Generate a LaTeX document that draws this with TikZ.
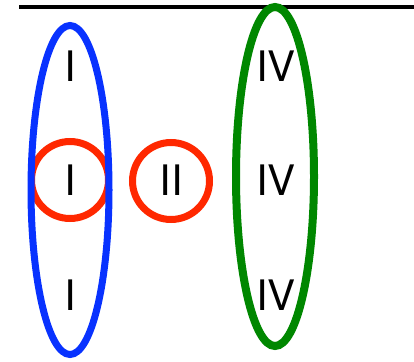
\documentclass[tikz,border=0pt]{standalone}
\usepackage{fontspec}
\setmainfont{TeX Gyre Heros}
\definecolor{cblue}{RGB}{8,50,255}
\definecolor{cred}{RGB}{255,40,0}
\definecolor{cgreen}{RGB}{0,135,0}
\begin{document}
\begin{tikzpicture}[x=1pt,y=-1pt,
  lbl/.style={anchor=base,inner sep=0pt,font=\fontsize{42}{50}\selectfont},
  ring/.style={line width=7pt}]
\useasboundingbox (0,0) rectangle (414,361);
\draw[line width=4.5pt] (19,7) -- (414,7);
\draw[ring,cred] (70,180) circle (38.5);
\draw[ring,cred] (171,181) circle (38.5);
\draw[ring,cblue] (70,190) ellipse (39 and 164.5);
\draw[line width=8pt,cgreen] (275,176.5) ellipse (39 and 169.5);
\node[lbl] (i1) at (70,81) {I};
\node[lbl] (i2) at (70,195) {I};
\node[lbl] (i3) at (70,310) {I};
\node[lbl] (ii) at (171,195) {II};
\node[lbl] (iv1) at (276,81) {IV};
\node[lbl] (iv2) at (276,195) {IV};
\node[lbl] (iv3) at (276,310) {IV};
\end{tikzpicture}
\end{document}
